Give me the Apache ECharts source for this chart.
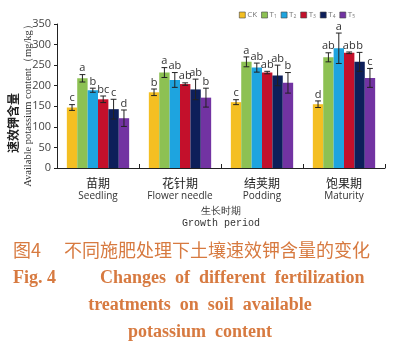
<!DOCTYPE html>
<html>
<head>
<meta charset="utf-8">
<script src="https://cdn.jsdelivr.net/npm/echarts@6/dist/echarts.min.js"></script>
<style>html,body{margin:0;padding:0;background:#fff;}#c{width:400px;height:348px;}</style>
</head>
<body>
<div id="c"></div>
<script>
const stageCN = ['苗期', '花针期', '结荚期', '饱果期'];
const stageEN = ['Seedling', 'Flower needle', 'Podding', 'Maturity'];
const seriesNames = ['CK', 'T1', 'T2', 'T3', 'T4', 'T5'];
const colors = ['#f4bf22', '#8dc153', '#1ea4df', '#c3102b', '#0d1f5a', '#7233a2'];
const CK = [147, 184, 160, 155];
const T1 = [218, 232, 258, 269];
const T2 = [189, 214, 244, 291];
const T3 = [167, 204, 232, 280];
const T4 = [143, 191, 225, 258];
const T5 = [121, 171, 207, 219];
const errCK = [7, 8, 6, 8];
const errT1 = [9, 12, 12, 11];
const errT2 = [5, 18, 11, 37];
const errT3 = [8, 3, 3, 2];
const errT4 = [24, 25, 25, 23];
const errT5 = [20, 23, 25, 23];
const letCK = ['c', 'b', 'c', 'd'];
const letT1 = ['a', 'a', 'a', 'ab'];
const letT2 = ['b', 'ab', 'ab', 'a'];
const letT3 = ['bc', 'ab', 'ab', 'ab'];
const letT4 = ['c', 'ab', 'ab', 'b'];
const letT5 = ['d', 'b', 'b', 'c'];
const yTicks = [0, 50, 100, 150, 200, 250, 300, 350];

const values = [CK, T1, T2, T3, T4, T5];
const errs = [errCK, errT1, errT2, errT3, errT4, errT5];
const lets = [letCK, letT1, letT2, letT3, letT4, letT5];
const GAP = 0.24;

const chart = echarts.init(document.getElementById('c'));
const series = [];
values.forEach((v, i) => {
  series.push({
    name: seriesNames[i], type: 'bar', data: v,
    barGap: '0%', barCategoryGap: (GAP * 100) + '%',
    itemStyle: { color: colors[i] }, z: 2
  });
});
values.forEach((v, i) => {
  series.push({
    type: 'custom', silent: true, z: 5,
    data: v.map((val, k) => [k, val, errs[i][k], lets[i][k]]),
    encode: { x: 0, y: 1 },
    renderItem: function (params, api) {
      const k = api.value(0), val = api.value(1), e = api.value(2);
      const catW = api.size([1, 0])[0];
      const groupW = catW * (1 - GAP);
      const barW = groupW / 6;
      const c = api.coord([k, val]);
      const x = c[0] - groupW / 2 + barW * (i + 0.5);
      const yTop = api.coord([k, val + e])[1];
      const yBot = api.coord([k, val - e])[1];
      const cap = barW * 0.28;
      const st = { stroke: '#222', lineWidth: 1 };
      return {
        type: 'group',
        children: [
          { type: 'line', shape: { x1: x, y1: yTop, x2: x, y2: yBot }, style: st },
          { type: 'line', shape: { x1: x - cap, y1: yTop, x2: x + cap, y2: yTop }, style: st },
          { type: 'line', shape: { x1: x - cap, y1: yBot, x2: x + cap, y2: yBot }, style: st },
          { type: 'text', x: x, y: yTop - 1,
            style: { text: lets[i][k], fill: '#333', font: '11px "Open Sans", sans-serif', align: 'center', verticalAlign: 'bottom' } }
        ]
      };
    }
  });
});

const capColor = '#d77a40';
chart.setOption({
  animation: false,
  backgroundColor: '#fff',
  grid: { left: 57, right: 15, top: 24, bottom: 180 },
  legend: {
    data: seriesNames, left: 234, top: 6, itemWidth: 6, itemHeight: 6, itemGap: 4,
    icon: 'rect',
    itemStyle: { borderColor: '#444', borderWidth: 0.6 },
    formatter: function (n) { return n === 'CK' ? '{a|CK}' : '{a|T}{s|' + n.slice(1) + '}'; },
    textStyle: { padding: [0, 0, 0, -3], rich: {
      a: { fontSize: 8, color: '#777', fontFamily: 'Open Sans' },
      s: { fontSize: 5, color: '#777', fontFamily: 'Open Sans', verticalAlign: 'bottom', padding: [3, 0, 0, 0] }
    } }
  },
  xAxis: {
    type: 'category',
    data: stageCN.map((c, k) => c + '\n' + stageEN[k]),
    axisLine: { lineStyle: { color: '#222', width: 1 } },
    axisTick: { show: true, inside: true, length: 4, lineStyle: { color: '#222' } },
    axisLabel: {
      margin: 9, interval: 0,
      formatter: function (v) { const p = v.split('\n'); return '{c|' + p[0] + '}\n{e|' + p[1] + '}'; },
      rich: {
        c: { fontSize: 12, color: '#222', fontFamily: 'Noto Sans CJK SC', lineHeight: 13 },
        e: { fontSize: 10, color: '#333', fontFamily: 'Open Sans', lineHeight: 12 }
      }
    },
    name: '生长时期\nGrowth period', nameLocation: 'middle', nameGap: 37,
    nameTextStyle: { fontSize: 10, color: '#333', fontFamily: 'Liberation Mono', lineHeight: 12 }
  },
  yAxis: {
    type: 'value', min: 0, max: 350, interval: 50,
    axisLine: { show: true, lineStyle: { color: '#222', width: 1 } },
    axisTick: { show: true, length: 3, lineStyle: { color: '#222' } },
    splitLine: { show: false },
    axisLabel: { fontSize: 11, color: '#444', margin: 6, fontFamily: 'Open Sans',
      formatter: function (v) { return yTicks.indexOf(v) >= 0 ? String(v) : ''; } }
  },
  graphic: [
    { type: 'text', x: 13, y: 123, rotation: Math.PI / 2,
      style: { text: '速效钾含量', font: 'bold 12px "Noto Sans CJK SC"', fill: '#222', align: 'center', verticalAlign: 'middle' } },
    { type: 'text', x: 28, y: 103, rotation: Math.PI / 2,
      style: { text: 'Available potassium content（mg/kg）', font: '10.5px "Liberation Serif"', fill: '#333', align: 'center', verticalAlign: 'middle' } },
    { type: 'text', x: 13, y: 250,
      style: { text: '图4', font: '18px "Noto Sans CJK SC"', fill: capColor, align: 'left', verticalAlign: 'middle' } },
    { type: 'text', x: 64, y: 250,
      style: { text: '不同施肥处理下土壤速效钾含量的变化', font: '18px "Noto Sans CJK SC"', fill: capColor, align: 'left', verticalAlign: 'middle' } },
    { type: 'text', x: 13, y: 278,
      style: { text: 'Fig. 4', font: 'bold 18px "Liberation Serif"', fill: capColor, align: 'left', verticalAlign: 'middle' } },
    { type: 'text', x: 100, y: 278,
      style: { text: 'Changes  of  different  fertilization', font: 'bold 18px "Liberation Serif"', fill: capColor, align: 'left', verticalAlign: 'middle' } },
    { type: 'text', x: 200, y: 305,
      style: { text: 'treatments  on  soil  available', font: 'bold 18px "Liberation Serif"', fill: capColor, align: 'center', verticalAlign: 'middle' } },
    { type: 'text', x: 200, y: 332,
      style: { text: 'potassium  content', font: 'bold 18px "Liberation Serif"', fill: capColor, align: 'center', verticalAlign: 'middle' } }
  ],
  series: series
});
</script>
</body>
</html>
